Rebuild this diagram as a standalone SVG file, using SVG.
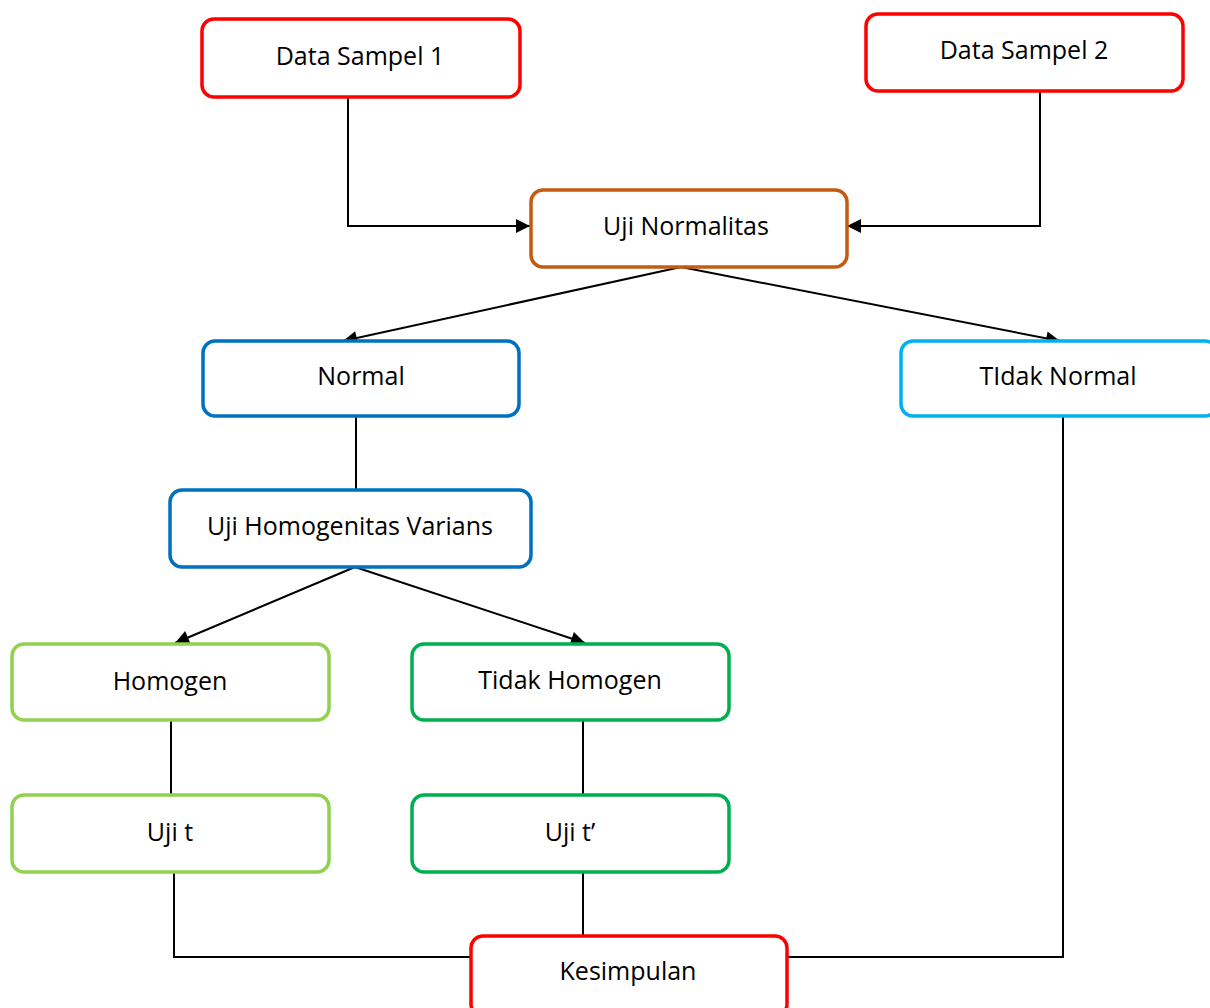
<svg xmlns="http://www.w3.org/2000/svg" width="1210" height="1008" viewBox="0 0 1210 1008">
<defs>
<marker id="arr" viewBox="0 0 10 10" refX="10" refY="5" markerWidth="7.5" markerHeight="7" orient="auto" markerUnits="strokeWidth"><path d="M0,0 L10,5 L0,10 z" fill="#000"/></marker>
<style>
.box{fill:#fff;stroke-width:3.5}
.t{font-family:"Open Sans","Noto Sans",sans-serif;font-size:25px;fill:#000;text-anchor:middle;dominant-baseline:central}
.c{fill:none;stroke:#000;stroke-width:2}
</style>
</defs>
<rect width="1210" height="1008" fill="#fff"/>
<g id="connectors">
<path class="c" d="M348,97 V226 H530" marker-end="url(#arr)"/>
<path class="c" d="M1040,91 V226 H847" marker-end="url(#arr)"/>
<path class="c" d="M681,267 L343,341" marker-end="url(#arr)"/>
<path class="c" d="M681,267 L1060,341" marker-end="url(#arr)"/>
<path class="c" d="M356,416 V490"/>
<path class="c" d="M355,567 L175,643" marker-end="url(#arr)"/>
<path class="c" d="M355,567 L585,643" marker-end="url(#arr)"/>
<path class="c" d="M171,720 V795"/>
<path class="c" d="M583,720 V795"/>
<path class="c" d="M174,872 V957 H470"/>
<path class="c" d="M583,872 V935"/>
<path class="c" d="M1063,416 V957 H787"/>
</g>
<g id="n1"><rect class="box" x="202" y="19" width="318" height="78" rx="12" stroke="#FF0000"/><text class="t" x="360" y="55">Data Sampel 1</text></g>
<g id="n2"><rect class="box" x="866" y="14" width="317" height="77" rx="12" stroke="#FF0000"/><text class="t" x="1024" y="49">Data Sampel 2</text></g>
<g id="n3"><rect class="box" x="531" y="190" width="316" height="77" rx="12" stroke="#C55A11"/><text class="t" x="686" y="225">Uji Normalitas</text></g>
<g id="n4"><rect class="box" x="203" y="341" width="316" height="75" rx="12" stroke="#0070C0"/><text class="t" x="361" y="375">Normal</text></g>
<g id="n5"><rect class="box" x="901" y="341" width="316" height="75" rx="12" stroke="#00B0F0"/><text class="t" x="1058" y="375">TIdak Normal</text></g>
<g id="n6"><rect class="box" x="170" y="490" width="361" height="77" rx="12" stroke="#0070C0"/><text class="t" x="350" y="525">Uji Homogenitas Varians</text></g>
<g id="n7"><rect class="box" x="12" y="644" width="317" height="76" rx="12" stroke="#92D050"/><text class="t" x="170" y="680">Homogen</text></g>
<g id="n8"><rect class="box" x="412" y="644" width="317" height="76" rx="12" stroke="#00B050"/><text class="t" x="570" y="679">Tidak Homogen</text></g>
<g id="n9"><rect class="box" x="12" y="795" width="317" height="77" rx="12" stroke="#92D050"/><text class="t" x="170" y="831">Uji t</text></g>
<g id="n10"><rect class="box" x="412" y="795" width="317" height="77" rx="12" stroke="#00B050"/><text class="t" x="570" y="831">Uji t’</text></g>
<g id="n11"><rect class="box" x="471" y="936" width="316" height="80" rx="12" stroke="#FF0000" stroke-width="5"/><text class="t" x="628" y="970">Kesimpulan</text></g>
</svg>
